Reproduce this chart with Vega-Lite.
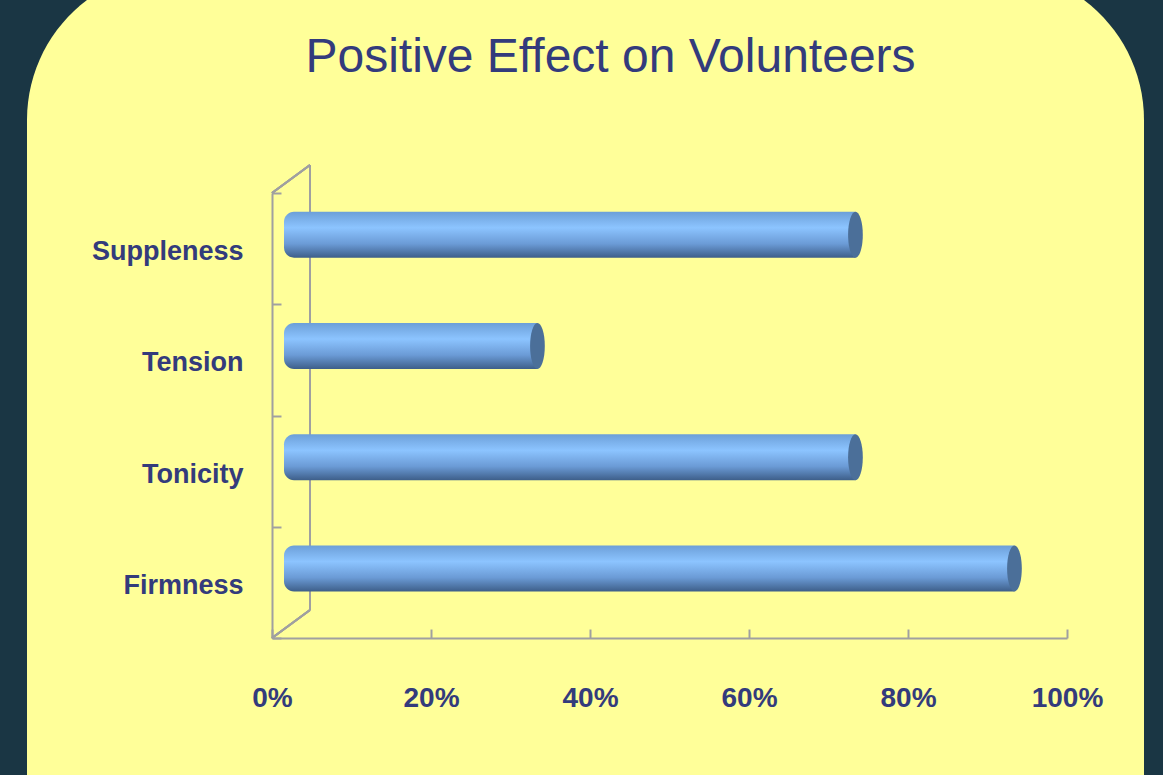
{
  "$schema": "https://vega.github.io/schema/vega-lite/v6.json",
  "width": 1117,
  "height": 1005,
  "autosize": {"type": "none"},
  "padding": {"left": 27, "top": -30, "right": 19, "bottom": -200},
  "background": "#1a3644",
  "config": {
    "view": {"fill": "#ffff99", "stroke": null, "cornerRadius": 150},
    "font": "Liberation Sans"
  },
  "title": {
    "text": "Positive Effect on Volunteers",
    "font": "Liberation Sans",
    "fontSize": 48,
    "fontWeight": "normal",
    "color": "#333b7c",
    "anchor": "middle",
    "dx": 25,
    "baseline": "alphabetic",
    "offset": -164
  },
  "data": {
    "values": [
      {"attribute": "Suppleness", "value": 0.71},
      {"attribute": "Tension", "value": 0.31},
      {"attribute": "Tonicity", "value": 0.71},
      {"attribute": "Firmness", "value": 0.91}
    ]
  },
  "resolve": {"scale": {"y": "independent"}, "axis": {"y": "independent"}},
  "layer": [
    {
      "layer": [
        {
          "mark": {"type": "rule", "color": "#a0a0a0", "strokeWidth": 2, "xOffset": 38, "yOffset": -28, "y2Offset": -28},
          "encoding": {
            "x": {"datum": 0, "type": "quantitative"},
            "y": {"datum": 0, "type": "quantitative", "scale": {"domain": [0, 1], "range": [668, 223]}, "axis": null},
            "y2": {"datum": 1}
          }
        },
        {
          "mark": {"type": "rule", "color": "#a0a0a0", "strokeWidth": 2, "x2Offset": 38, "y2Offset": -28},
          "encoding": {
            "x": {"datum": 0, "type": "quantitative"},
            "x2": {"datum": 0},
            "y": {"datum": 1, "type": "quantitative"},
            "y2": {"datum": 1}
          }
        },
        {
          "mark": {"type": "rule", "color": "#a0a0a0", "strokeWidth": 2, "x2Offset": 38, "y2Offset": -28},
          "encoding": {
            "x": {"datum": 0, "type": "quantitative"},
            "x2": {"datum": 0},
            "y": {"datum": 0, "type": "quantitative"},
            "y2": {"datum": 0}
          }
        }
      ]
    },
    {
      "layer": [
        {
          "mark": {"type": "bar", "size": 46, "xOffset": 19, "x2Offset": 12, "yOffset": -14, "y2Offset": -14,
            "cornerRadiusTopLeft": 10, "cornerRadiusBottomLeft": 10,
            "color": {"gradient": "linear", "x1": 0, "y1": 0, "x2": 0, "y2": 1,
              "stops": [
                {"offset": 0, "color": "#6c9fd8"},
                {"offset": 0.35, "color": "#8cc4ff"},
                {"offset": 0.7, "color": "#6b9bd6"},
                {"offset": 1, "color": "#3e5f8a"}
              ]}},
          "encoding": {
            "y": {"field": "attribute", "type": "nominal", "sort": null,
              "scale": {"range": [223, 668], "paddingInner": 0, "paddingOuter": 0},
              "axis": {"title": null, "orient": "left", "offset": -245, "tickBand": "extent",
                "domainColor": "#a0a0a0", "domainWidth": 2, "tickColor": "#a0a0a0", "tickWidth": 2, "tickSize": -9,
                "labelFont": "Liberation Sans", "labelFontWeight": "bold", "labelFontSize": 27, "labelColor": "#333b7c",
                "labelPadding": 38, "labelBaseline": "middle", "labelOffset": 3}},
            "x": {"field": "value", "type": "quantitative",
              "scale": {"domain": [0, 1], "range": [245, 1040], "nice": false},
              "axis": {"title": null, "orient": "bottom", "offset": -337, "values": [0, 0.2, 0.4, 0.6, 0.8, 1], "format": ".0%", "grid": false,
                "domainColor": "#a0a0a0", "domainWidth": 2, "tickColor": "#a0a0a0", "tickWidth": 2, "tickSize": -9,
                "labelFont": "Liberation Sans", "labelFontWeight": "bold", "labelFontSize": 28, "labelColor": "#333b7c",
                "labelPadding": 77, "labelBaseline": "alphabetic", "labelFlush": false}},
            "x2": {"datum": 0}
          }
        },
        {
          "mark": {"type": "point", "shape": "M0,-1 A0.32,1 0 1,1 0,1 A0.32,1 0 1,1 0,-1 Z", "size": 2116,
            "filled": true, "opacity": 1, "color": "#4b6f99", "xOffset": 19, "yOffset": -14},
          "encoding": {
            "y": {"field": "attribute", "type": "nominal", "sort": null},
            "x": {"field": "value", "type": "quantitative"}
          }
        }
      ]
    }
  ]
}
